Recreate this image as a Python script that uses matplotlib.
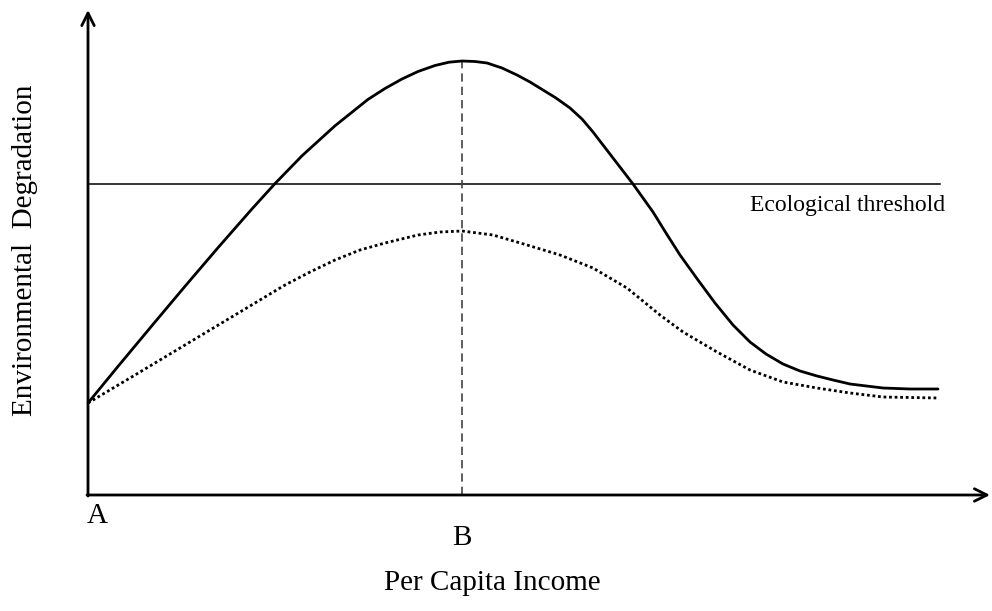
"""Environmental Kuznets curve sketch with an ecological threshold."""

import matplotlib

matplotlib.use("Agg")
import matplotlib.pyplot as plt

# income measured from point A; degradation measured from the income axis
solid_income = [0, 30, 64, 97, 130, 164, 187, 214, 247, 280, 297, 314, 330, 347, 361, 374,
                387, 399, 414, 429, 442, 455, 468, 482, 494, 505, 515, 525, 545, 565, 578,
                592, 610, 627, 645, 662, 678, 695, 712, 729, 745, 762, 795, 822, 850]
solid_degradation = [92, 128.6, 169.4, 208.7, 247.3, 286.1, 311.4, 339.2, 369.2, 395.6,
                     406.5, 416, 423.5, 429.5, 432.8, 434,
                     433.5, 432, 427, 420, 413, 405, 397, 387, 376, 363, 350, 337, 311, 283,
                     262, 240, 215, 192, 170, 153, 141, 131, 124, 119, 115, 111, 107, 106, 106]

dotted_income = [0, 47, 97, 147, 197, 222, 247, 272, 297, 330, 352, 374, 405, 439, 472, 505,
                 539, 572, 595, 629, 662, 695, 729, 762, 795, 850]
dotted_degradation = [92, 120, 150, 180, 210, 223, 235, 245, 252, 260, 263, 264, 260, 250,
                      240, 227, 207, 180, 163, 143, 125, 113, 107, 102, 98, 97]

threshold = 311
threshold_end = 852
peak_income = 374
peak_level = 434
x_axis_end = 902
y_axis_end = 485

SERIF = ["Liberation Serif", "DejaVu Serif"]

fig = plt.figure(figsize=(9.92, 6.11), dpi=100)
ax = fig.add_axes([0, 0, 1, 1])
ax.set_xlim(-88, 904)
ax.set_ylim(-116, 495)
ax.axis("off")

# axes with arrow heads
arrow = dict(arrowstyle="->,head_length=0.9,head_width=0.45", lw=2, color="black",
             shrinkA=0, shrinkB=0)
ax.annotate("", xy=(0, y_axis_end), xytext=(0, -1), arrowprops=arrow)
ax.annotate("", xy=(x_axis_end, 0), xytext=(-1, 0), arrowprops=arrow)

ax.plot([0, threshold_end], [threshold, threshold], color="black", lw=1.1)
ax.plot([peak_income, peak_income], [0, peak_level], color="#444444", lw=1.2,
        linestyle=(0, (5, 3)))

ax.plot(solid_income, solid_degradation, color="black", lw=2,
        solid_joinstyle="round", solid_capstyle="round")
ax.plot(dotted_income, dotted_degradation, color="black", lw=2, linestyle=(0, (1, 1)))

ax.text(threshold_end + 5, threshold - 22, "Ecological threshold", family=SERIF,
        fontsize=17, ha="right", va="center")
ax.text(9, -21, "A", family=SERIF, fontsize=21, ha="center", va="center")
ax.text(peak_income, -43, "B", family=SERIF, fontsize=21, ha="center", va="center")
ax.text(404, -88, "Per Capita Income", family=SERIF, fontsize=21,
        ha="center", va="center")
ax.text(-63, 245, "Environmental  Degradation", family=SERIF, fontsize=21,
        ha="center", va="center", rotation=90)

fig.savefig("out.png", dpi=100)
plt.close(fig)
